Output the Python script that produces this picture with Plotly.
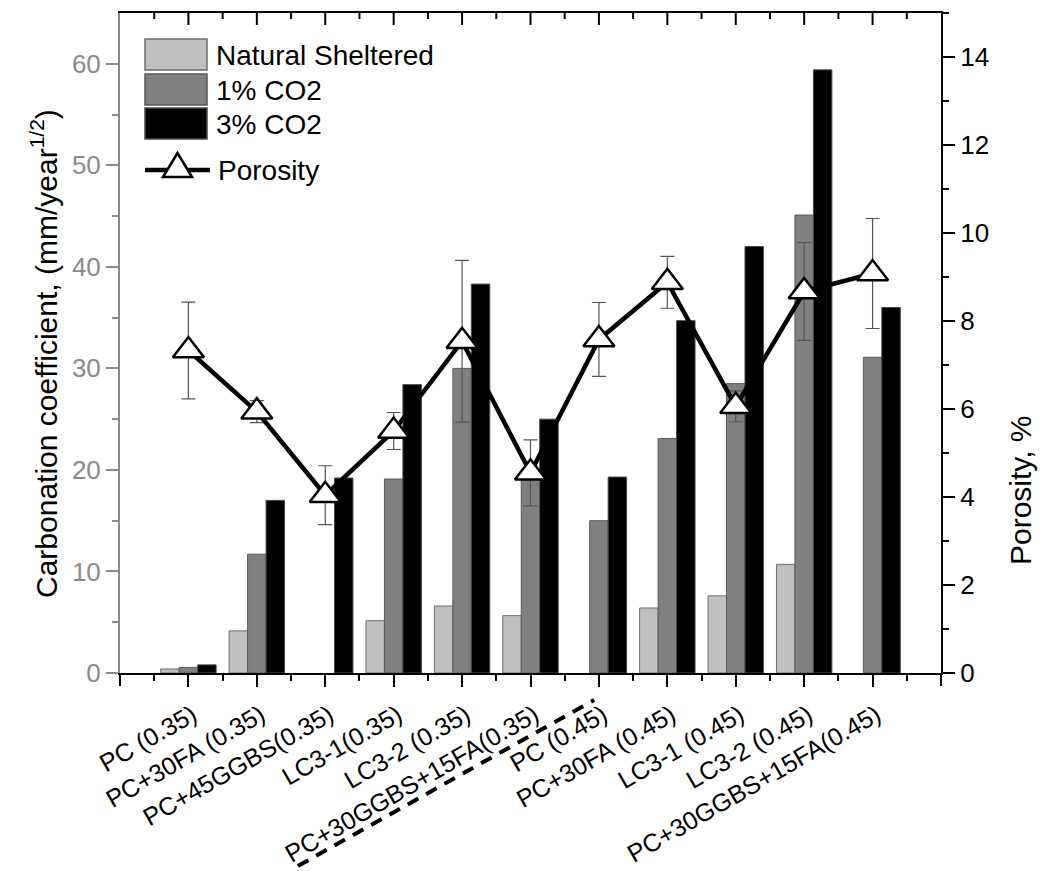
import plotly.graph_objects as go

# ---------------- data ----------------
categories = ["PC (0.35)", "PC+30FA (0.35)", "PC+45GGBS(0.35)", "LC3-1(0.35)", "LC3-2 (0.35)",
              "PC+30GGBS+15FA(0.35)", "PC (0.45)", "PC+30FA (0.45)", "LC3-1 (0.45)",
              "LC3-2 (0.45)", "PC+30GGBS+15FA(0.45)"]
natural_sheltered = [0.4, 4.15, None, 5.15, 6.6, 5.65, None, 6.4, 7.6, 10.7, None]
co2_1pct = [0.55, 11.7, None, 19.1, 30.0, 19.0, 15.0, 23.1, 28.5, 45.1, 31.1]
co2_3pct = [0.8, 17.0, 19.2, 28.4, 38.3, 25.0, 19.3, 34.7, 42.0, 59.4, 36.0]
porosity = [7.33, 5.94, 4.04, 5.50, 7.54, 4.55, 7.58, 8.88, 6.06, 8.67, 9.08]
porosity_err = [1.10, 0.25, 0.67, 0.42, 1.84, 0.75, 0.84, 0.59, 0.35, 1.11, 1.25]

legend_labels = ["Natural Sheltered", "1% CO2", "3% CO2", "Porosity"]
y_left_title = "Carbonation coefficient, (mm/year<sup>1/2</sup>)"
y_right_title = "Porosity, %"

FONT = "Liberation Sans, Arial, sans-serif"
W, H = 1045, 871
L, R, T, B = 120, 104, 13, 198
PW, PH = W - L - R, H - T - B

def px(xp):
    return (xp - L) / PW

def py(yp):
    return (H - B - yp) / PH

n = len(categories)
x_idx = list(range(n))

fig = go.Figure()
bar_styles = [
    (natural_sheltered, "#c0c0c0", "#6e6e6e", legend_labels[0]),
    (co2_1pct, "#808080", "#5a5a5a", legend_labels[1]),
    (co2_3pct, "#000000", "#4a4a4a", legend_labels[2]),
]
for vals, fill, edge, name in bar_styles:
    fig.add_trace(go.Bar(x=x_idx, y=vals, name=name, marker=dict(color=fill, line=dict(color=edge, width=1)),
                         showlegend=False))

fig.add_trace(go.Scatter(
    x=x_idx, y=porosity, yaxis="y2", name=legend_labels[3], mode="lines+markers",
    line=dict(color="black", width=4.5),
    marker=dict(symbol="triangle-up", size=27, color="white", line=dict(color="black", width=2.5)),
    error_y=dict(type="data", array=porosity_err, visible=True, color="#555555", thickness=1.2, width=7),
    showlegend=False,
))

# invisible helper trace so the corner-tick axis is drawn
fig.add_trace(go.Scatter(x=x_idx, y=co2_3pct, xaxis="x2", yaxis="y", mode="markers",
                         marker=dict(opacity=0), showlegend=False, hoverinfo="skip"))

minor_x = [v + 0.5 for v in range(-1, n)]

fig.update_layout(
    width=W, height=H, autosize=False,
    margin=dict(l=L, r=R, t=T, b=B, autoexpand=False),
    paper_bgcolor="white", plot_bgcolor="white",
    font=dict(family=FONT, size=25, color="black"),
    barmode="group", bargap=0.19, bargroupgap=0,
    xaxis=dict(range=[-1, n], tickmode="array", tickvals=x_idx, ticktext=categories,
               tickangle=-30, ticks="outside", ticklen=12, tickwidth=2, tickcolor="black",
               ticklabelstandoff=4, ticklabelshift=4, automargin=False, mirror=True,
               showline=True, linecolor="black", linewidth=2, showgrid=False, zeroline=False,
               tickfont=dict(size=25, family=FONT),
               minor=dict(tickvals=minor_x, ticks="outside", ticklen=6, tickwidth=2, tickcolor="black",
                          showgrid=False)),
    xaxis2=dict(range=[-1, n], overlaying="x", side="bottom", anchor="y", automargin=False,
                tickmode="array", tickvals=[-1, n], showticklabels=False,
                ticks="outside", ticklen=12, tickwidth=2, tickcolor="black",
                showline=False, showgrid=False, zeroline=False),
    yaxis=dict(range=[0, 65], tickmode="array", tickvals=[0, 10, 20, 30, 40, 50, 60], automargin=False,
               ticks="outside", ticklen=12, tickwidth=2, tickcolor="#8a8a8a",
               showline=True, linecolor="#8a8a8a", linewidth=2, showgrid=False, zeroline=False,
               tickfont=dict(size=26, color="#8a8a8a", family=FONT),
               minor=dict(tickvals=[5, 15, 25, 35, 45, 55], ticks="outside", ticklen=6, tickwidth=2,
                          tickcolor="#8a8a8a", showgrid=False)),
    yaxis2=dict(range=[0, 15], overlaying="y", side="right", anchor="x", automargin=False,
                tickmode="array", tickvals=[0, 2, 4, 6, 8, 10, 12, 14],
                ticks="outside", ticklen=12, tickwidth=2, tickcolor="black",
                showline=True, linecolor="black", linewidth=2, showgrid=False, zeroline=False,
                tickfont=dict(size=26, color="black", family=FONT),
                minor=dict(tickvals=[1, 3, 5, 7, 9, 11, 13, 15], ticks="outside", ticklen=6, tickwidth=2,
                           tickcolor="black", showgrid=False)),
)

annotations = [
    dict(text=y_left_title, x=px(44), y=py(354), xref="paper", yref="paper", textangle=-90,
         showarrow=False, font=dict(size=30, family=FONT, color="black"), xanchor="center", yanchor="middle"),
    dict(text=y_right_title, x=px(1021), y=py(490), xref="paper", yref="paper", textangle=-90,
         showarrow=False, font=dict(size=30, family=FONT, color="black"), xanchor="center", yanchor="middle"),
]

shapes = []
# inward ticks along the top frame (mirror of the category axis)
for v in x_idx:
    shapes.append(dict(type="line", xref="x", yref="paper", x0=v, x1=v, y0=1, y1=1 - 12 / PH,
                       line=dict(color="black", width=2)))
for v in minor_x:
    shapes.append(dict(type="line", xref="x", yref="paper", x0=v, x1=v, y0=1, y1=1 - 6 / PH,
                       line=dict(color="black", width=2)))

# custom legend
legend_rows = [(39, 70, "#c0c0c0", "#6e6e6e"), (74, 105, "#808080", "#5a5a5a"), (108, 139, "#000000", "#4a4a4a")]
for (y0, y1, fill, edge), label in zip(legend_rows, legend_labels[:3]):
    shapes.append(dict(type="rect", xref="paper", yref="paper", x0=px(145), x1=px(207), y0=py(y1), y1=py(y0),
                       fillcolor=fill, line=dict(color=edge, width=1.5)))
    annotations.append(dict(text=label, x=px(214), y=py((y0 + y1) / 2 + 1), xref="paper", yref="paper",
                            showarrow=False, xanchor="left", yanchor="middle",
                            font=dict(size=28, family=FONT, color="black")))
shapes.append(dict(type="line", xref="paper", yref="paper", x0=px(145), x1=px(210), y0=py(170), y1=py(170),
                   line=dict(color="black", width=4.5)))
tri = "M {:.5f},{:.5f} L {:.5f},{:.5f} L {:.5f},{:.5f} Z".format(px(163), py(177), px(192), py(177), px(177.5), py(153))
shapes.append(dict(type="path", xref="paper", yref="paper", path=tri, fillcolor="white",
                   line=dict(color="black", width=2.5)))
annotations.append(dict(text=legend_labels[3], x=px(216), y=py(170), xref="paper", yref="paper",
                        showarrow=False, xanchor="left", yanchor="middle",
                        font=dict(size=28, family=FONT, color="black")))

# dashed highlight under the PC+30GGBS+15FA(0.35) label
shapes.append(dict(type="line", xref="x", yref="paper", x0=1.6, x1=5.93, y0=py(866), y1=py(700),
                   line=dict(color="black", width=4, dash="12px,9px")))

fig.update_layout(annotations=annotations, shapes=shapes)
fig.write_html("out.html")
